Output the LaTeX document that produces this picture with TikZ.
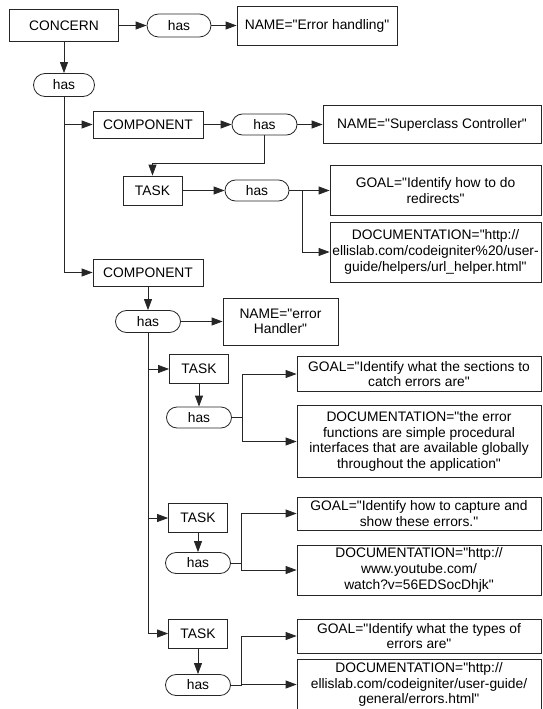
\documentclass[tikz,border=0pt]{standalone}
\usepackage{fontspec}
\setmainfont{Liberation Sans}[Ligatures=TeXOff]
\usetikzlibrary{arrows.meta, shapes.misc}

\begin{document}
\begin{tikzpicture}[x=1pt, y=-1pt, line width=0.8pt,
  every node/.style={font=\fontsize{13.8}{15.6}\selectfont, align=center, inner sep=1pt},
  box/.style={draw=black!85, rectangle},
  pill/.style={draw=black!85, rounded rectangle, minimum width=67, minimum height=21},
  taskbox/.style={box, minimum width=59, minimum height=29},
  link/.style={draw=black!85},
  arr/.style={draw=black!85, -{Triangle[length=11pt, width=8pt]}}]
  \useasboundingbox (0,0) rectangle (543,709);
  % top row
  \node[box, minimum width=109, minimum height=32] (concern) at (64,25.5) {CONCERN};
  \node[pill, minimum width=66, minimum height=23] (has1) at (179,25.5) {has};
  \node[box, minimum width=160, minimum height=39] (name1) at (317,25.5) {NAME="Error handling"};
  \node[pill, minimum width=63, minimum height=23] (has2) at (64,85) {has};
  % first component
  \node[box, minimum width=110, minimum height=27] (comp1) at (148,124.5) {COMPONENT};
  \node[pill] (has3) at (264.5,124.5) {has};
  \node[box, minimum width=218, minimum height=38] (name2) at (432,124.5) {NAME="Superclass Controller"};
  \node[taskbox] (task1) at (152.5,190.5) {TASK};
  \node[pill, minimum width=66] (has4) at (257,190.5) {has};
  \node[box, minimum width=211, minimum height=50] (goal1) at (435.5,190.5) {GOAL="Identify how to do\\redirects"};
  \node[box, minimum width=211, minimum height=60] (doc1) at (435.5,252) {DOCUMENTATION="http://\\ellislab.com/codeigniter\%20/user-\\guide/helpers/url\_helper.html"};
  % second component
  \node[box, minimum width=110, minimum height=27] (comp2) at (148,272.5) {COMPONENT};
  \node[pill, minimum height=22] (has5) at (148,321.5) {has};
  \node[box, minimum width=115, minimum height=47] (name3) at (280.5,321.5) {NAME="error\\Handler"};
  \node[taskbox] (task2) at (199,369) {TASK};
  \node[pill] (has6) at (199,417.5) {has};
  \node[box, minimum width=244, minimum height=35] (goal2) at (419,374) {GOAL="Identify what the sections to\\catch errors are"};
  \node[box, minimum width=244, minimum height=72] (doc2) at (419,441.5) {DOCUMENTATION="the error\\functions are simple procedural\\interfaces that are available globally\\throughout the application"};
  \node[taskbox] (task3) at (198,518) {TASK};
  \node[pill] (has7) at (198,563) {has};
  \node[box, minimum width=244, minimum height=33] (goal3) at (419,513.5) {GOAL="Identify how to capture and\\show these errors."};
  \node[box, minimum width=244, minimum height=50] (doc3) at (419,570) {DOCUMENTATION="http://\\www.youtube.com/\\watch?v=56EDSocDhjk"};
  \node[taskbox] (task4) at (198,633.5) {TASK};
  \node[pill] (has8) at (198,685) {has};
  \node[box, minimum width=244, minimum height=34] (goal4) at (419,636) {GOAL="Identify what the types of\\errors are"};
  \node[box, minimum width=244, minimum height=50] (doc4) at (419,684.5) {DOCUMENTATION="http://\\ellislab.com/codeigniter/user-guide/\\general/errors.html"};
  % connectors
  \draw[arr] (concern.east) -- (has1.west);
  \draw[arr] (has1.east) -- (name1.west);
  \draw[arr] (concern.south) -- (has2.north);
  \draw[arr] (has2.south) |- (comp1.west);
  \draw[arr] (has2.south) |- (comp2.west);
  \draw[arr] (comp1.east) -- (has3.west);
  \draw[arr] (has3.east) -- (name2.west);
  \draw[arr] (has3.south) -- ++(0,28) -| (task1.north);
  \draw[arr] (task1.east) -- (has4.west);
  \draw[link] (has4.east) -- ++(13,0) coordinate (j1);
  \draw[arr] (j1) |- (goal1.west);
  \draw[arr] (j1) |- (doc1.west);
  \draw[arr] (comp2.south) -- (has5.north);
  \draw[arr] (has5.east) -- (name3.west);
  \foreach \t/\h/\g/\d in {task2/has6/goal2/doc2, task3/has7/goal3/doc3, task4/has8/goal4/doc4} {
    \draw[arr] (has5.south) |- (\t.west);
    \draw[arr] (\t.south) -- (\h.north);
    \draw[link] (\h.east) -- ++(10,0) coordinate (j);
    \draw[arr] (j) |- (\g.west);
    \draw[arr] (j) |- (\d.west);
  }
\end{tikzpicture}
\end{document}
